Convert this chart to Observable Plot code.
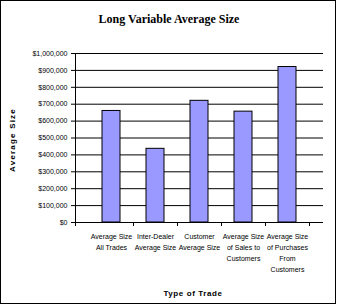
<!DOCTYPE html>
<html><head><meta charset="utf-8">
<script src="https://cdn.jsdelivr.net/npm/d3@7"></script>
<script src="https://cdn.jsdelivr.net/npm/@observablehq/plot@0.6"></script>
<style>
html,body{margin:0;padding:0;background:#fff;}
svg{display:block;}
</style>
</head><body>
<div id="chart"></div>
<script>
const categories = ["All", "Inter", "Customer", "Sales", "Purchases"];
const tickLabels = [
  "Average Size\nAll Trades",
  "Inter-Dealer\nAverage Size",
  "Customer\nAverage Size",
  "Average Size\nof Sales to\nCustomers",
  "Average Size\nof Purchases\nFrom\nCustomers"
];
const values = [660000, 436000, 720000, 656000, 920000];
const yTicks = [0, 100000, 200000, 300000, 400000, 500000, 600000, 700000, 800000, 900000, 1000000];
const title = "Long Variable Average Size";
const xTitle = "Type of Trade";
const yTitle = "Average Size";

const data = categories.map((c, i) => ({cat: c, value: values[i]}));
const labelOf = Object.fromEntries(categories.map((c, i) => [c, tickLabels[i]]));

const chart = Plot.plot({
  width: 338,
  height: 305,
  marginLeft: 75,
  marginRight: 15,
  marginTop: 53,
  marginBottom: 83,
  style: {fontFamily: "'Liberation Sans', Arial, sans-serif", fontSize: "7px", fontWeight: "normal", color: "#000", background: "#fff"},
  x: {domain: categories, padding: 0.6, label: null},
  y: {domain: [0, 1000000], label: null},
  marks: [
    Plot.gridY(yTicks, {stroke: "#000", strokeOpacity: 1, strokeWidth: 1}),
    Plot.barY(data, {x: "cat", y: "value", fill: "#9999ff", stroke: "#000", strokeWidth: 1}),
    Plot.axisY(yTicks, {tickSize: 4, tickPadding: 4, tickFormat: d3.format("$,.0f"), fontSize: 7, label: null}),
    Plot.axisX({tickSize: 0, tickPadding: 9, tickFormat: d => labelOf[d], lineHeight: 1.55, fontSize: 7, label: null})
  ]
});

const svg = d3.select(chart);
const xs = chart.scale("x");
const step = xs.step;
const pLeft = 75, pTop = 53, pBottom = 305 - 83;
svg.append("line").attr("x1", pLeft + 0.5).attr("x2", pLeft + 0.5).attr("y1", pTop).attr("y2", pBottom + 4).attr("stroke", "#000");
categories.forEach((c, i) => {
  const bx = Math.round(xs.apply(c) + xs.bandwidth / 2 + step / 2) + 0.5;
  svg.append("line").attr("x1", bx).attr("x2", bx).attr("y1", pBottom).attr("y2", pBottom + 4).attr("stroke", "#000");
});
svg.append("text").attr("x", 169).attr("y", 23).attr("text-anchor", "middle")
  .attr("font-family", "'Liberation Serif', 'Times New Roman', serif").attr("font-size", 12).attr("font-weight", "bold")
  .text(title);
svg.append("text").attr("x", 193).attr("y", 296).attr("text-anchor", "middle")
  .attr("font-size", 8).attr("font-weight", "bold").attr("letter-spacing", 0.6)
  .text(xTitle);
svg.append("text").attr("transform", "translate(15,140) rotate(-90)").attr("text-anchor", "middle")
  .attr("font-size", 8).attr("font-weight", "bold").attr("letter-spacing", 1.2)
  .text(yTitle);
svg.append("rect").attr("x", 0.5).attr("y", 0.5).attr("width", 335).attr("height", 303)
  .attr("fill", "none").attr("stroke", "#000");

document.getElementById("chart").appendChild(chart);
</script>
</body></html>
